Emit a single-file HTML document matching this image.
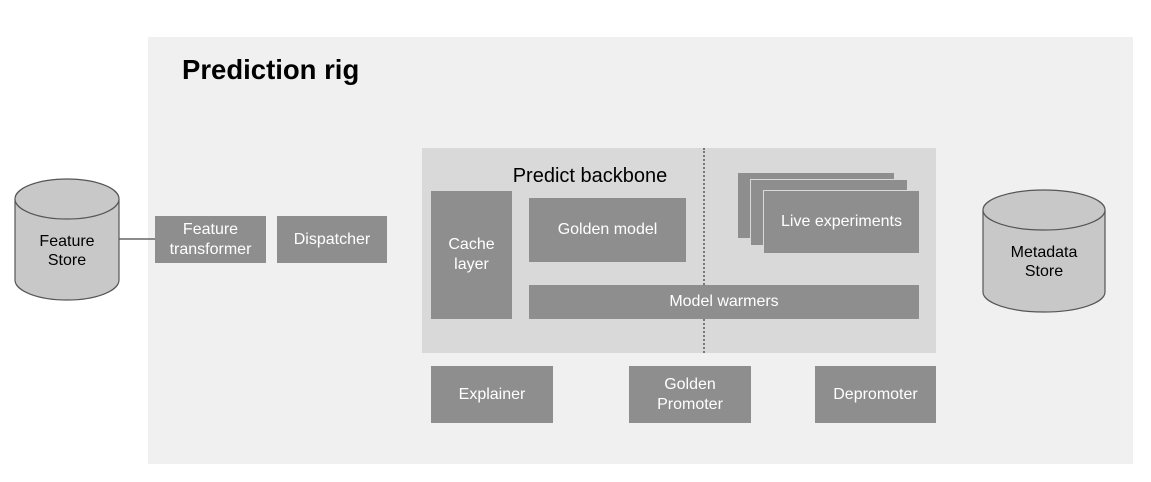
<!DOCTYPE html>
<html><head><style>
body{margin:0;width:1151px;height:482px;background:#fff;position:relative;overflow:hidden;font-family:"Liberation Sans",Arial,sans-serif}
.a{position:absolute}
.b{position:absolute;box-sizing:border-box;background:#8e8e8e;color:#fff;font-size:16px;display:flex;align-items:center;justify-content:center;text-align:center;line-height:20px}
</style></head><body>
<div class="a" style="left:148px;top:37px;width:985px;height:427px;background:#f0f0f0"></div>
<div class="a" style="left:182px;top:54px;font-size:27.5px;font-weight:bold;color:#000">Prediction rig</div>
<div class="a" style="left:422px;top:148px;width:514px;height:205px;background:#d9d9d9"></div>
<div class="a" style="left:703px;top:148px;height:205px;border-left:2px dotted #777"></div>
<div class="a" style="left:422px;top:165px;width:336px;text-align:center;font-size:20px;color:#000">Predict backbone</div>
<svg class="a" style="left:0;top:0" width="1151" height="482">
<line x1="119" y1="239" x2="155" y2="239" stroke="#666" stroke-width="1.5"/>
<path d="M15,199 L15,280 A52,20 0 0 0 119,280 L119,199" fill="#c8c8c8" stroke="#555" stroke-width="1.2"/>
<ellipse cx="67" cy="199" rx="52" ry="20" fill="#c8c8c8" stroke="#555" stroke-width="1.2"/>
<path d="M983,210 L983,292 A61,20 0 0 0 1105,292 L1105,210" fill="#c8c8c8" stroke="#555" stroke-width="1.2"/>
<ellipse cx="1044" cy="210" rx="61" ry="20" fill="#c8c8c8" stroke="#555" stroke-width="1.2"/>
<text x="67" y="246" font-size="16" text-anchor="middle" font-family="Liberation Sans">Feature</text>
<text x="67" y="265" font-size="16" text-anchor="middle" font-family="Liberation Sans">Store</text>
<text x="1044" y="257" font-size="16" text-anchor="middle" font-family="Liberation Sans">Metadata</text>
<text x="1044" y="276" font-size="16" text-anchor="middle" font-family="Liberation Sans">Store</text>
</svg>
<div class="b" style="left:155px;top:216px;width:111px;height:47px">Feature<br>transformer</div>
<div class="b" style="left:277px;top:216px;width:110px;height:47px">Dispatcher</div>
<div class="b" style="left:431px;top:191px;width:81px;height:128px">Cache<br>layer</div>
<div class="b" style="left:529px;top:198px;width:157px;height:64px">Golden model</div>
<div class="b" style="left:529px;top:285px;width:390px;height:34px">Model warmers</div>
<div class="b" style="left:738px;top:173px;width:156px;height:65px"></div>
<div class="b" style="left:750px;top:179px;width:158px;height:67px;border:1px solid #d9d9d9"></div>
<div class="b" style="left:763px;top:190px;width:157px;height:64px;border:1px solid #d9d9d9">Live experiments</div>
<div class="b" style="left:431px;top:366px;width:122px;height:57px">Explainer</div>
<div class="b" style="left:629px;top:366px;width:122px;height:57px">Golden<br>Promoter</div>
<div class="b" style="left:815px;top:366px;width:121px;height:57px">Depromoter</div>
</body></html>
